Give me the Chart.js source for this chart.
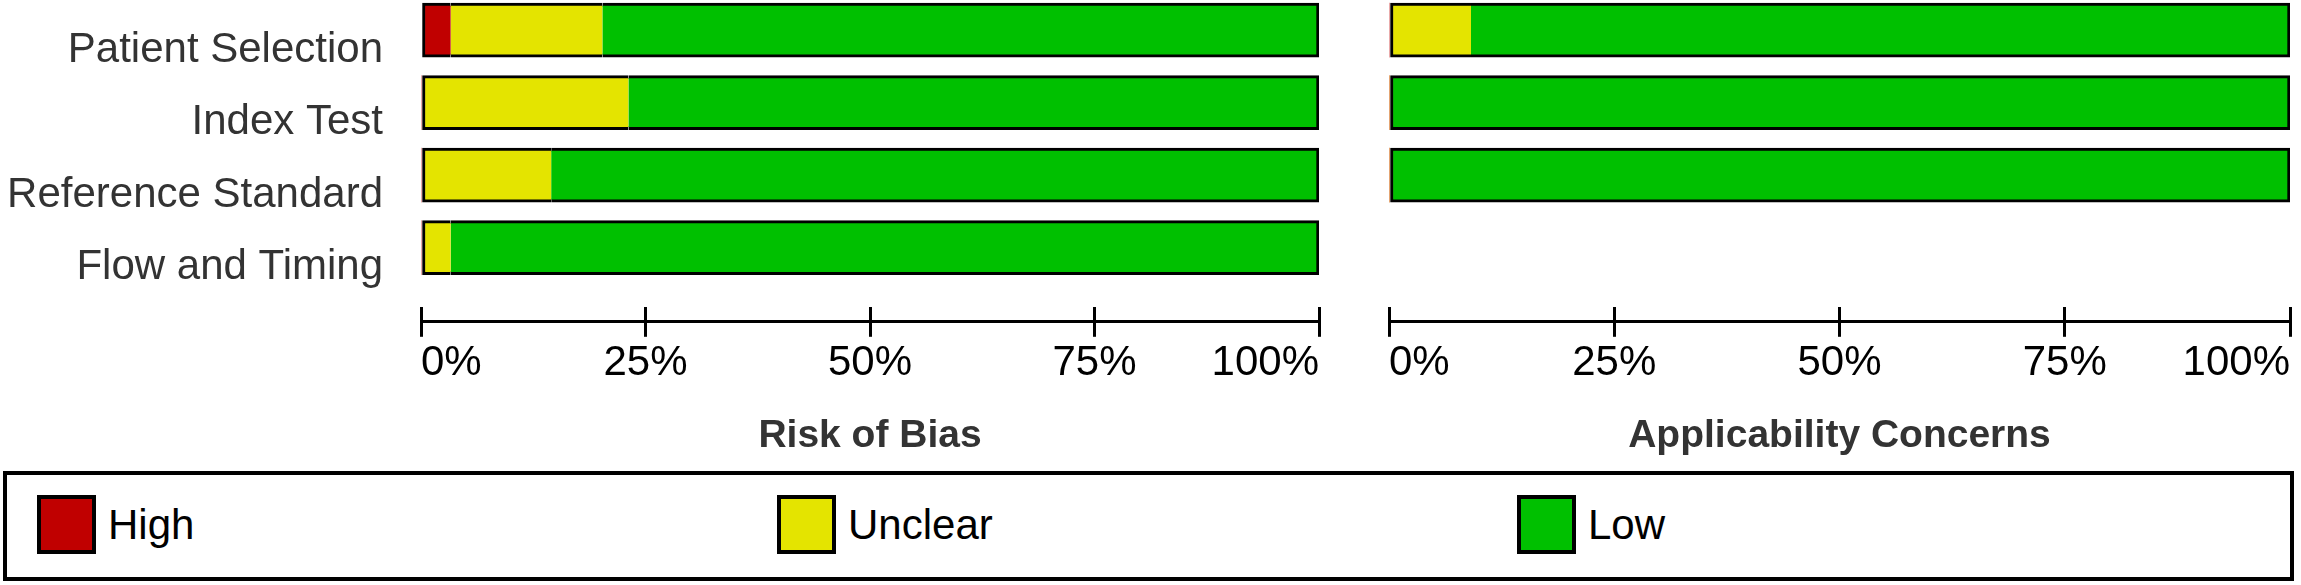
<!DOCTYPE html>
<html>
<head>
<meta charset="utf-8">
<script src="https://cdn.jsdelivr.net/npm/chart.js@4.4.0/dist/chart.umd.min.js"></script>
<style>
  body { margin: 0; background: #fff; width: 2301px; height: 585px; position: relative; overflow: hidden;
         font-family: 'Liberation Sans', Arial, sans-serif; }
  canvas { position: absolute; top: 0; }
  #bias { left: 0; }
  #appl { left: 1385px; }
  #legend { position: absolute; left: 3px; top: 471px; width: 2291px; height: 110px;
            border: 4px solid #000; box-sizing: border-box; }
  .item { position: absolute; top: 20px; height: 59px; display: flex; align-items: center;
          font-size: 42px; color: #000; }
  .swatch { width: 59px; height: 59px; border: 4px solid #000; box-sizing: border-box; margin-right: 12px; }
</style>
</head>
<body>
<canvas id="bias" width="1330" height="460"></canvas>
<canvas id="appl" width="913" height="460"></canvas>
<div id="legend"></div>
<script>
const categories = ['Patient Selection', 'Index Test', 'Reference Standard', 'Flow and Timing'];
const judgements = ['High', 'Unclear', 'Low'];
const colors = ['#c00000', '#e4e400', '#00c000'];
const tickValues = [0, 25, 50, 75, 100];

// % of studies, risk of bias
const biasHigh = [3.3, 0, 0, 0];
const biasUnclear = [16.9, 23.1, 14.5, 3.3];
const biasLow = [79.8, 76.9, 85.5, 96.7];

// % of studies, applicability concerns (no Flow and Timing)
const applHigh = [0, 0, 0];
const applUnclear = [9.1, 0, 0];
const applLow = [90.9, 100, 100];

Chart.defaults.font.family = "'Liberation Sans', Arial, sans-serif";

// one black frame around the whole stacked row, no lines between segments
function edgeBorder(series) {
    return (ctx) => {
        const i = ctx.dataIndex;
        if (i === undefined) return 3;
        const vals = series.map(s => s[i]);
        const d = ctx.datasetIndex;
        if (!(vals[d] > 0)) return 0;
        const first = vals.findIndex(v => v > 0);
        let last = vals.length - 1;
        while (last > 0 && !(vals[last] > 0)) last--;
        return { top: 3, bottom: 3, left: d === first ? 3 : 0, right: d === last ? 3 : 0 };
    };
}

function setTicks(axis) {
    axis.ticks = tickValues.map(v => ({ value: v }));
}

function makeChart(id, series, title, showLabels, pad) {
    const tickGrid = { drawOnChartArea: false, drawTicks: true, tickLength: 15, color: '#000', lineWidth: 3 };
    const yAxis = {
        type: 'linear', reverse: true, stacked: true, offset: false,
        min: -0.416, max: 3.815,
        display: showLabels,
        grid: { display: false, drawTicks: true, tickLength: 38 },
        border: { display: false },
        afterBuildTicks: (axis) => { axis.ticks = series[0].map((v, i) => ({ value: i })); },
        ticks: {
            align: 'start', padding: 0, labelOffset: -1, color: '#333',
            font: { size: 42 },
            callback: (v) => categories[v]
        }
    };
    if (showLabels) yAxis.afterFit = (axis) => { axis.width = 421; };

    return new Chart(document.getElementById(id), {
        type: 'bar',
        data: {
            labels: series[0].map((v, i) => i),
            datasets: judgements.map((name, d) => ({
                label: name,
                data: series[d],
                backgroundColor: colors[d],
                borderColor: '#000',
                borderWidth: edgeBorder(series),
                borderSkipped: false,
                barThickness: 54
            }))
        },
        options: {
            indexAxis: 'y',
            responsive: false,
            animation: false,
            layout: { padding: pad },
            plugins: { legend: { display: false }, tooltip: { enabled: false } },
            scales: {
                y: yAxis,
                x: {
                    stacked: true, min: 0, max: 100, weight: 0,
                    grid: tickGrid,
                    border: { display: false },
                    ticks: { display: false },
                    afterBuildTicks: setTicks
                },
                x2: {
                    type: 'linear', position: 'bottom', min: 0, max: 100, weight: 1,
                    grid: tickGrid,
                    border: { display: true, color: '#000', width: 3 },
                    ticks: {
                        align: 'inner', padding: 1, color: '#000',
                        font: { size: 42 },
                        callback: (v) => v + '%'
                    },
                    title: {
                        display: true, text: title, color: '#333',
                        font: { size: 39, weight: 'bold' },
                        padding: { top: 24, bottom: 0 }
                    },
                    afterBuildTicks: setTicks
                }
            }
        }
    });
}

makeChart('bias', [biasHigh, biasUnclear, biasLow], 'Risk of Bias', true,
    { left: 0, right: 11, top: 0, bottom: 0 });
makeChart('appl', [applHigh, applUnclear, applLow], 'Applicability Concerns', false,
    { left: 4, right: 8, top: 0, bottom: 0 });

// legend box under both panels
const legend = document.getElementById('legend');
judgements.forEach((name, i) => {
    const item = document.createElement('div');
    item.className = 'item';
    item.style.left = (30 + 740 * i) + 'px';
    const sw = document.createElement('span');
    sw.className = 'swatch';
    sw.style.background = colors[i];
    item.appendChild(sw);
    item.appendChild(document.createTextNode(name));
    legend.appendChild(item);
});
</script>
</body>
</html>
